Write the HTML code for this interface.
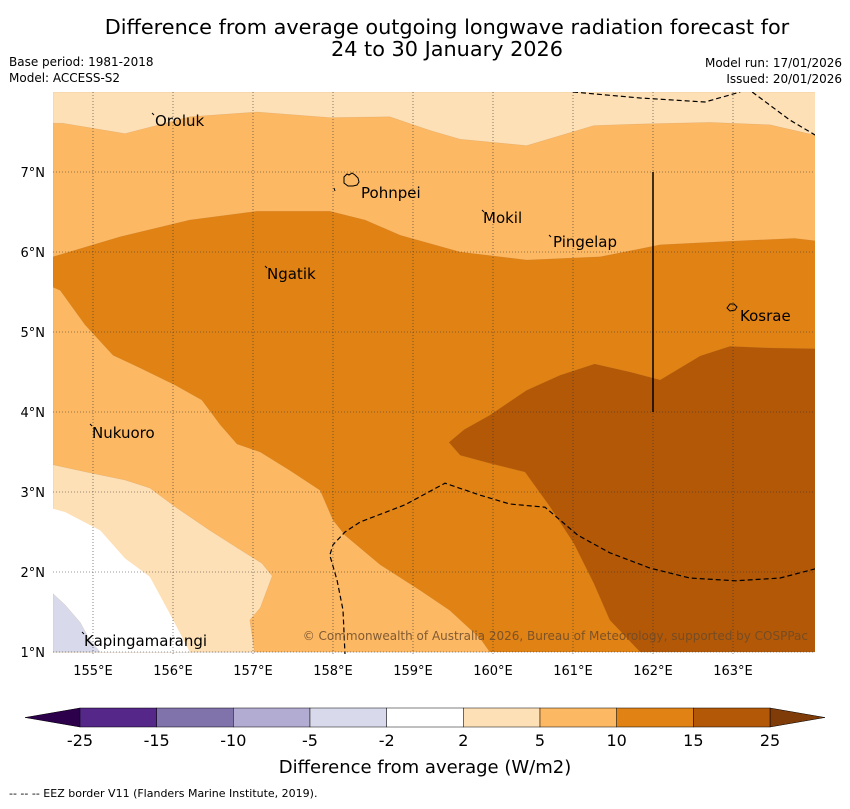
<!DOCTYPE html>
<html><head><meta charset="utf-8"><style>
body{margin:0;background:#fff;font-family:"Liberation Sans","DejaVu Sans",sans-serif;}
svg text{font-family:"DejaVu Sans","Liberation Sans",sans-serif;}
</style></head><body>
<svg id="chart" width="850" height="804" viewBox="0 0 850 804" xmlns="http://www.w3.org/2000/svg">
<rect width="850" height="804" fill="#fff"/>
<text x="447" y="34" font-size="20.8" text-anchor="middle">Difference from average outgoing longwave radiation forecast for</text>
<text x="447" y="56" font-size="20.8" text-anchor="middle">24 to 30 January 2026</text>
<text x="9" y="66" font-size="12">Base period: 1981-2018</text>
<text x="9" y="82" font-size="12">Model: ACCESS-S2</text>
<text x="842" y="67" font-size="12" text-anchor="end">Model run: 17/01/2026</text>
<text x="842" y="83" font-size="12" text-anchor="end">Issued: 20/01/2026</text>
<defs><clipPath id="mc"><rect x="53" y="92" width="762" height="562"/></clipPath></defs>
<g id="map" clip-path="url(#mc)"></g>
<g id="axes"></g>
<g id="cbar"></g>
<text x="425" y="773" font-size="18" text-anchor="middle">Difference from average (W/m2)</text>
<text x="9" y="797" font-size="11">--  --  -- EEZ border V11 (Flanders Marine Institute, 2019).</text>
</svg>
<script>
const NS="http://www.w3.org/2000/svg";
const lonTicks=[155,156,157,158,159,160,161,162,163];
const latTicks=[1,2,3,4,5,6,7];
const cbBounds=["-25","-15","-10","-5","-2","2","5","10","15","25"];
const cbColors=["#542788","#8073ac","#b2abd2","#d8daeb","#ffffff","#fee0b6","#fdb863","#e08214","#b35806"];
const X=lon=>93+(lon-155)*80;
const Y=lat=>172-(lat-7)*80;
const regions=[
 {name:"region-10-15",color:"#e08214",pts:[[154.5,8],[164.03,8],[164.03,1],[154.5,1]]},
 {name:"region-5-10-north",color:"#fdb863",pts:[[154.5,5.94],[155.34,6.19],[156.21,6.4],[157.05,6.51],[157.96,6.51],[158.4,6.4],[158.84,6.21],[159.59,6],[160.42,5.9],[161.34,5.94],[162.09,6.09],[163.09,6.14],[163.77,6.17],[164.03,6.14],[164.03,8],[154.5,8]]},
 {name:"region-2-5-north",color:"#fee0b6",pts:[[154.5,8],[154.5,7.61],[154.62,7.61],[155.4,7.48],[155.71,7.56],[156.21,7.69],[157.05,7.75],[157.96,7.68],[158.71,7.69],[159.21,7.52],[159.59,7.41],[160.42,7.33],[161.26,7.58],[161.84,7.6],[162.71,7.62],[163.46,7.59],[164.03,7.46],[164.03,8]]},
 {name:"region-5-10-west",color:"#fdb863",pts:[[154.5,5.56],[154.59,5.52],[154.9,5.09],[155.25,4.71],[155.59,4.55],[156.02,4.34],[156.36,4.15],[156.59,3.84],[156.8,3.6],[157.09,3.5],[157.46,3.27],[157.84,3.02],[158,2.65],[158.15,2.46],[158.59,2.09],[159.09,1.77],[159.46,1.52],[159.84,1.17],[159.96,1],[154.5,1]]},
 {name:"region-2-5-west",color:"#fee0b6",pts:[[154.5,3.34],[154.96,3.24],[155.4,3.15],[155.71,3.05],[156.02,2.82],[156.46,2.52],[156.9,2.24],[157.11,2.11],[157.24,1.95],[157.09,1.55],[156.96,1.4],[157.02,1],[154.5,1]]},
 {name:"region-neutral",color:"#ffffff",pts:[[154.5,2.79],[154.65,2.75],[155.09,2.52],[155.4,2.17],[155.71,1.94],[155.96,1.48],[156.21,1],[154.5,1]]},
 {name:"region-minus2-minus5",color:"#d8daeb",pts:[[154.5,1.73],[154.65,1.59],[154.84,1.37],[154.96,1.15],[155.09,1],[154.5,1]]},
 {name:"region-15-25",color:"#b35806",pts:[[159.45,3.62],[159.64,3.78],[159.96,3.96],[160.42,4.27],[160.84,4.46],[161.27,4.6],[161.71,4.5],[162.09,4.4],[162.59,4.7],[162.96,4.82],[163.46,4.8],[164.03,4.79],[164.03,1],[161.84,1],[161.46,1.4],[161.26,1.86],[161.01,2.36],[160.71,2.82],[160.4,3.25],[159.96,3.36],[159.59,3.46]]}
];
const eezLines=[
 [[161.0,8.0],[161.84,7.925],[162.65,7.875],[163.09,8.0]],
 [[163.24,8.0],[163.71,7.65],[164.03,7.46]],
 [[164.03,2.04],[163.59,1.925],[163.03,1.89],[162.46,1.925],[161.96,2.05],[161.46,2.24],[161.06,2.46],[160.65,2.81],[160.21,2.85],[159.84,2.96],[159.4,3.11],[158.9,2.84],[158.34,2.625],[158.15,2.5],[158.0,2.34],[157.96,2.21],[158.05,1.9],[158.125,1.525],[158.15,0.97]]
];
const places=[["Oroluk",155.775,7.575,155.75,7.725],["Pohnpei",158.35,6.675,null,null],["Mokil",159.875,6.3625,159.875,6.5125],["Pingelap",160.75,6.0625,160.7125,6.2],["Ngatik",157.175,5.6625,157.1625,5.8125],["Kosrae",163.0875,5.1375,null,null],["Nukuoro",154.9875,3.675,154.975,3.8375],["Kapingamarangi",154.8875,1.075,154.875,1.2375]];
const map=document.getElementById('map');
function mk(tag,attrs,parent){const e=document.createElementNS(NS,tag);for(const k in attrs)e.setAttribute(k,attrs[k]);parent.appendChild(e);return e;}
const P=pts=>pts.map(p=>X(p[0]).toFixed(1)+","+Y(p[1]).toFixed(1)).join(" ");
regions.forEach(r=>{const e=mk('polygon',{points:P(r.pts),fill:r.color,stroke:r.color==="#ffffff"?"none":"#a0703a","stroke-width":0.3,"stroke-opacity":0.4},map);

});
lonTicks.forEach(l=>{const e=mk('line',{x1:X(l),x2:X(l),y1:92,y2:654,stroke:"#333","stroke-width":0.6,"stroke-dasharray":"1,2"},map);

});
latTicks.forEach(l=>{const e=mk('line',{x1:53,x2:815,y1:Y(l),y2:Y(l),stroke:"#333","stroke-width":0.6,"stroke-dasharray":"1,2"},map);

});
eezLines.forEach(l=>{const e=mk('polyline',{points:P(l),fill:"none",stroke:"#000","stroke-width":1.2,"stroke-dasharray":"5,3"},map);

});
const vl=mk('line',{x1:X(162),x2:X(162),y1:Y(7),y2:Y(4),stroke:"#000","stroke-width":1.5},map);


const isl1=mk('path',{d:"M344,177 l3,-3 l2,1 l3,-2 l3,2 l3,3 l1,4 l-2,3 l-4,1 l-5,0 l-4,-3 z M334,188 l1,3",fill:"none",stroke:"#000","stroke-width":1},map);


const isl2=mk('path',{d:"M727,308 l3,-4 l4,0 l3,3 l-2,3 l-5,1 z",fill:"none",stroke:"#000","stroke-width":1},map);


places.forEach(p=>{const t=mk('text',{x:X(p[1]),y:Y(p[2]),"font-size":15},map);t.textContent=p[0];


if(p[3]!==null){const m=mk('line',{x1:X(p[3])-1,y1:Y(p[4])-1,x2:X(p[3])+1,y2:Y(p[4])+1,stroke:"#000","stroke-width":1},map);

}});
const cp=mk('text',{x:808,y:640,"font-size":12,"text-anchor":"end",fill:"#6b4a2a","fill-opacity":0.85},map);
cp.textContent="© Commonwealth of Australia 2026, Bureau of Meteorology, supported by COSPPac";


const ax=document.getElementById('axes');
lonTicks.forEach(l=>{const t=mk('text',{x:X(l),y:675,"font-size":13,"text-anchor":"middle"},ax);t.textContent=l+"°E";

});
latTicks.forEach(l=>{const t=mk('text',{x:45,y:Y(l)+5,"font-size":13,"text-anchor":"end"},ax);t.textContent=l+"°N";

});
const cb=document.getElementById('cbar');
const cbX=i=>80+i*(690/9);
const lt=mk('polygon',{points:"80,708 25,717.5 80,727",fill:"#2d004b",stroke:"#000","stroke-width":0.5},cb);


const rt=mk('polygon',{points:"770,708 825,717.5 770,727",fill:"#7f3b08",stroke:"#000","stroke-width":0.5},cb);


cbColors.forEach((c,i)=>{const r=mk('rect',{x:cbX(i),y:708,width:690/9,height:19,fill:c,stroke:"#000","stroke-width":0.5},cb);

});
cbBounds.forEach((b,i)=>{const t=mk('text',{x:cbX(i),y:746,"font-size":16,"text-anchor":"middle"},cb);t.textContent=b;

});
</script>
</body></html>
